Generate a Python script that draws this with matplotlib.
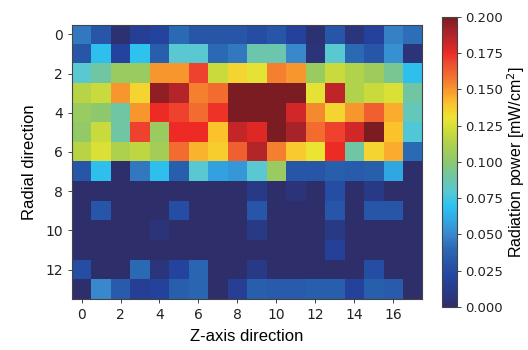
import numpy as np
import matplotlib
matplotlib.use("Agg")
import matplotlib.pyplot as plt
from matplotlib.colors import LinearSegmentedColormap

x_ticks = [0, 2, 4, 6, 8, 10, 12, 14, 16]
y_ticks = [0, 2, 4, 6, 8, 10, 12]
cbar_ticks = [0.0, 0.025, 0.05, 0.075, 0.1, 0.125, 0.15, 0.175, 0.2]

row0 = [0.045, 0.030, 0.003, 0.015, 0.020, 0.040, 0.030, 0.030, 0.030, 0.025, 0.030, 0.018, 0.003, 0.030, 0.007, 0.018, 0.048, 0.042]
row1 = [0.030, 0.068, 0.020, 0.070, 0.035, 0.080, 0.080, 0.040, 0.045, 0.088, 0.088, 0.050, 0.005, 0.080, 0.040, 0.030, 0.053, 0.005]
row2 = [0.080, 0.090, 0.105, 0.105, 0.150, 0.150, 0.170, 0.120, 0.135, 0.128, 0.155, 0.150, 0.105, 0.120, 0.113, 0.107, 0.093, 0.068]
row3 = [0.115, 0.120, 0.150, 0.135, 0.195, 0.187, 0.155, 0.160, 0.200, 0.200, 0.200, 0.200, 0.128, 0.185, 0.113, 0.120, 0.125, 0.090]
row4 = [0.105, 0.100, 0.090, 0.150, 0.175, 0.170, 0.160, 0.173, 0.200, 0.200, 0.200, 0.180, 0.153, 0.135, 0.150, 0.163, 0.145, 0.085]
row5 = [0.103, 0.120, 0.090, 0.170, 0.105, 0.175, 0.175, 0.140, 0.183, 0.178, 0.200, 0.190, 0.160, 0.170, 0.180, 0.200, 0.140, 0.078]
row6 = [0.115, 0.125, 0.112, 0.117, 0.108, 0.160, 0.143, 0.137, 0.163, 0.187, 0.155, 0.138, 0.130, 0.175, 0.090, 0.135, 0.145, 0.040]
row7 = [0.030, 0.068, 0.000, 0.045, 0.068, 0.035, 0.080, 0.058, 0.055, 0.080, 0.105, 0.030, 0.030, 0.035, 0.033, 0.035, 0.060, 0.000]
row8 = [0.000, 0.000, 0.000, 0.000, 0.000, 0.000, 0.000, 0.000, 0.000, 0.010, 0.000, 0.005, 0.000, 0.025, 0.000, 0.010, 0.000, 0.000]
row9 = [0.000, 0.030, 0.000, 0.000, 0.000, 0.025, 0.000, 0.000, 0.000, 0.030, 0.000, 0.000, 0.000, 0.030, 0.000, 0.030, 0.030, 0.000]
row10 = [0.000, 0.000, 0.000, 0.000, 0.005, 0.000, 0.000, 0.000, 0.000, 0.010, 0.000, 0.000, 0.000, 0.010, 0.000, 0.000, 0.000, 0.000]
row11 = [0.000, 0.000, 0.000, 0.000, 0.000, 0.000, 0.000, 0.000, 0.000, 0.000, 0.000, 0.000, 0.000, 0.017, 0.000, 0.000, 0.000, 0.000]
row12 = [0.025, 0.000, 0.000, 0.040, 0.007, 0.020, 0.038, 0.000, 0.000, 0.010, 0.000, 0.000, 0.000, 0.000, 0.000, 0.025, 0.000, 0.000]
row13 = [0.000, 0.050, 0.033, 0.015, 0.018, 0.035, 0.038, 0.000, 0.015, 0.035, 0.033, 0.033, 0.035, 0.035, 0.018, 0.035, 0.033, 0.000]

data = np.array([row0, row1, row2, row3, row4, row5, row6, row7,
                 row8, row9, row10, row11, row12, row13])

cmap_pts = [
    (0.00, "#2e2f6a"), (0.05, "#283a88"), (0.10, "#2444a0"), (0.15, "#2856a8"),
    (0.20, "#2a6ab4"), (0.25, "#3a88cc"), (0.30, "#30a8e4"), (0.35, "#2ec4f0"),
    (0.40, "#5ac8d0"), (0.45, "#70c6a4"), (0.50, "#8cc870"), (0.55, "#a8cf52"),
    (0.60, "#c8da3c"), (0.65, "#ebe534"), (0.70, "#fcc42c"), (0.75, "#f7962e"),
    (0.80, "#f26c30"), (0.85, "#ee4430"), (0.875, "#ee2a24"), (0.90, "#d42828"),
    (0.95, "#a8242a"), (1.00, "#7a1c22"),
]
cmap = LinearSegmentedColormap.from_list("rad", cmap_pts)

label_font = ["Liberation Sans", "DejaVu Sans"]

fig = plt.figure(figsize=(5.28, 3.5), dpi=100)
ax = fig.add_axes([0.136, 0.146, 0.664, 0.784])
im = ax.imshow(data, cmap=cmap, vmin=0, vmax=0.2, aspect="auto", interpolation="nearest")
ax.set_xticks(x_ticks)
ax.set_yticks(y_ticks)
ax.tick_params(labelsize=10, colors="#222222", length=3, width=0.6)
for s in ax.spines.values():
    s.set_color("#444444")
    s.set_linewidth(0.8)
ax.set_xlabel("Z-axis direction", fontsize=12, labelpad=5, family=label_font)
ax.set_ylabel("Radial direction", fontsize=12, labelpad=6, family=label_font)

cax = fig.add_axes([0.838, 0.123, 0.028, 0.829])
cb = fig.colorbar(im, cax=cax, ticks=cbar_ticks)
cb.ax.set_yticklabels([f"{t:.3f}" for t in cbar_ticks])
cb.ax.tick_params(labelsize=9.5, length=3, width=0.6, pad=2.5, colors="#222222")
cb.outline.set_edgecolor("#444444")
cb.outline.set_linewidth(0.8)
cb.set_label("Radiation power [mW/cm$^2$]", fontsize=11.5, labelpad=2, family=label_font)

fig.savefig("out.png", dpi=100)
